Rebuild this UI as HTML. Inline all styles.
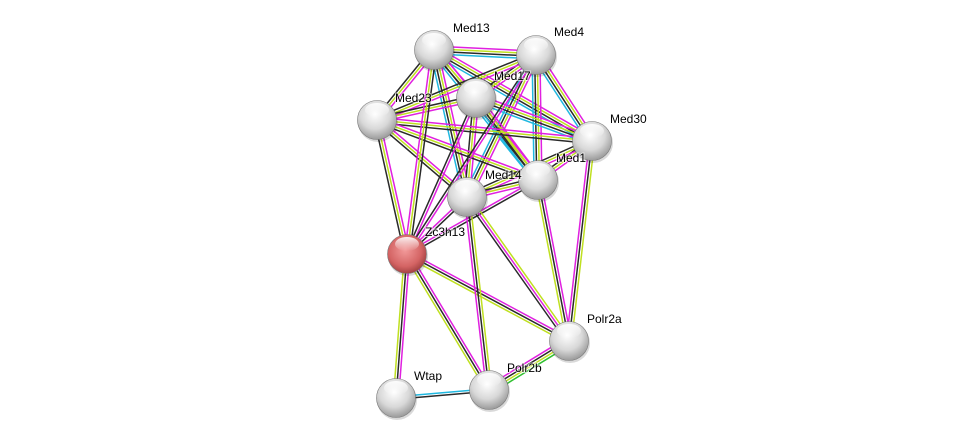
<!DOCTYPE html>
<html><head><meta charset="utf-8"><style>
html,body{margin:0;padding:0;background:#fff;width:976px;height:443px;overflow:hidden}
svg{display:block}
text{font-family:"Liberation Sans",sans-serif;font-size:12px;fill:#000;paint-order:stroke;stroke:rgba(255,255,255,0.6);stroke-width:2px}
</style></head><body>
<svg id="s" width="976" height="443" viewBox="0 0 976 443">
<defs>
<radialGradient id="g" cx="0.45" cy="0.35" r="0.7">
<stop offset="0" stop-color="#ffffff"/><stop offset="0.55" stop-color="#d8d8d8"/><stop offset="1" stop-color="#8f8f8f"/></radialGradient>
<radialGradient id="r" cx="0.45" cy="0.4" r="0.7">
<stop offset="0" stop-color="#f29a9a"/><stop offset="0.6" stop-color="#d46464"/><stop offset="1" stop-color="#8a3030"/></radialGradient>
<linearGradient id="h" x1="0" y1="0" x2="0" y2="1"><stop offset="0" stop-color="#fff" stop-opacity="0.9"/><stop offset="1" stop-color="#fff" stop-opacity="0"/></linearGradient>
</defs>
<g id="e"></g><g id="n"></g>
</svg>
<script>
var N={Med13:[434,50],Med4:[536,55],Med17:[476,98],Med23:[377,120],Med30:[592,141],Med1:[538,180],Med14:[467,197],Zc3h13:[407,254],Polr2a:[569,341],Polr2b:[489,390],Wtap:[396,398]};
var M='#e020e0',Y='#bfe020',K='#2a2a2a',C='#20b8e0',G='#30c030';
var E=[];
var med=['Med13','Med4','Med17','Med23','Med30','Med1','Med14'];
var cy={'Med4-Med30':1,'Med13-Med1':1,'Med17-Med1':1,'Med4-Med1':1,'Med13-Med30':1,'Med13-Med4':1,'Med17-Med30':1,'Med4-Med14':1,'Med13-Med14':1};
for(var i=0;i<med.length;i++)for(var j=i+1;j<med.length;j++){var k=med[i]+'-'+med[j];var c=[M,Y,K];if(cy[k])c.push(C);E.push([med[i],med[j],c]);}
E=E.concat([
['Zc3h13','Med23',[K,Y,M]],['Zc3h13','Med13',[M,Y,K]],['Zc3h13','Med17',[K,M]],['Zc3h13','Med4',[K,M]],
['Zc3h13','Med14',[M,K]],['Zc3h13','Med1',[M,K]],['Zc3h13','Polr2a',[M,K,Y]],['Zc3h13','Polr2b',[M,K,Y]],
['Zc3h13','Wtap',[M,K,Y]],['Med14','Polr2b',[Y,K,M]],['Med14','Polr2a',[Y,M,K]],['Med1','Polr2a',[M,K,Y]],
['Med30','Polr2a',[Y,K,M]],['Polr2a','Polr2b',[G,Y,K,M]],['Wtap','Polr2b',[C,K]]]);
var ns='http://www.w3.org/2000/svg',eg=document.getElementById('e'),ng=document.getElementById('n');
E.forEach(function(e){var a=N[e[0]],b=N[e[1]],dx=b[0]-a[0],dy=b[1]-a[1],L=Math.hypot(dx,dy),px=-dy/L,py=dx/L,n=e[2].length;
e[2].forEach(function(c,i){var o=(i-(n-1)/2)*2.6;var l=document.createElementNS(ns,'line');
l.setAttribute('x1',a[0]+px*o);l.setAttribute('y1',a[1]+py*o);l.setAttribute('x2',b[0]+px*o);l.setAttribute('y2',b[1]+py*o);
l.setAttribute('stroke',c);l.setAttribute('stroke-width','1.5');eg.appendChild(l);});});
var lab={Med13:[453,32],Med4:[554,36],Med17:[494,80],Med23:[395,102],Med30:[610,123],Med1:[556,162],Med14:[485,179],Zc3h13:[425,236],Polr2a:[587,323],Polr2b:[507,372],Wtap:[414,380]};
for(var k in N){var p=N[k];
var sh=document.createElementNS(ns,'circle');sh.setAttribute('cx',p[0]+1);sh.setAttribute('cy',p[1]+2);sh.setAttribute('r',20);sh.setAttribute('fill','rgba(0,0,0,0.15)');ng.appendChild(sh);
var c=document.createElementNS(ns,'circle');c.setAttribute('cx',p[0]);c.setAttribute('cy',p[1]);c.setAttribute('r',19.5);
c.setAttribute('fill',k=='Zc3h13'?'url(#r)':'url(#g)');c.setAttribute('stroke','#777');c.setAttribute('stroke-width','0.6');ng.appendChild(c);
var h=document.createElementNS(ns,'ellipse');h.setAttribute('cx',p[0]);h.setAttribute('cy',p[1]-10);h.setAttribute('rx',12);h.setAttribute('ry',7);h.setAttribute('fill','url(#h)');ng.appendChild(h);}
for(var k in N){var t=document.createElementNS(ns,'text');t.setAttribute('x',lab[k][0]);t.setAttribute('y',lab[k][1]);t.textContent=k;ng.appendChild(t);}
</script>
</body></html>
